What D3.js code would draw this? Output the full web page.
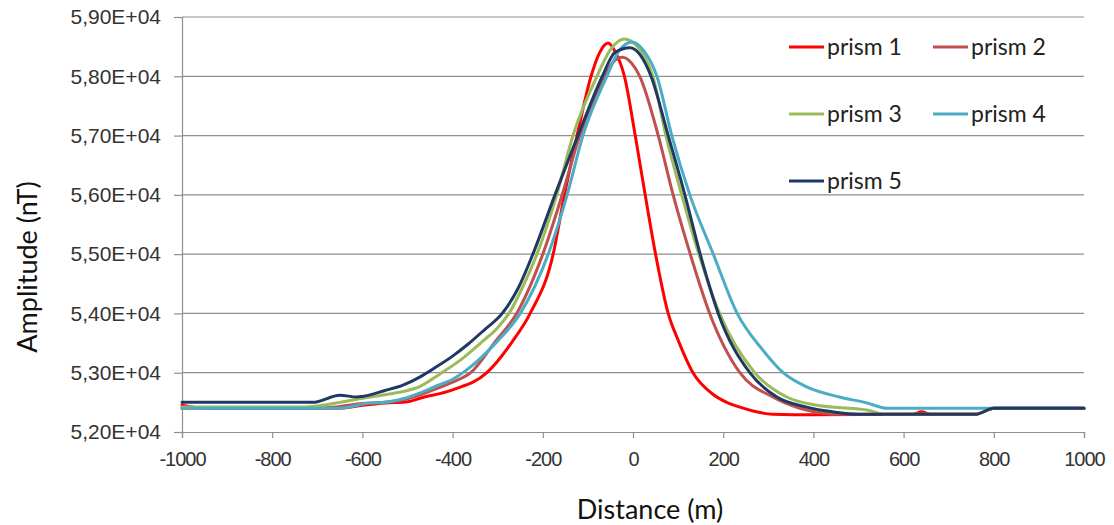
<!DOCTYPE html>
<html>
<head>
<meta charset="utf-8">
<script src="https://cdn.jsdelivr.net/npm/d3@7"></script>
<style>
  html, body { margin: 0; padding: 0; background: #fff; }
  svg { display: block; font-family: Lato, "Open Sans", sans-serif; }
</style>
</head>
<body>
<svg id="chart" width="1114" height="525"></svg>
<script>
// ---------- DATA ----------
const seriesNames = ["prism 1", "prism 2", "prism 3", "prism 4", "prism 5"];
const seriesColors = ["#FF0000", "#C0504D", "#9BBB59", "#4BACC6", "#1F3864"];

const prism1 = [[-1000,52450],[-950,52400],[-700,52400],[-650,52400],[-600,52450],[-550,52490],[-500,52510],[-472,52570],[-400,52710],[-324,53000],[-268,53520],[-228,54000],[-177,55000],[-152,56000],[-124,57000],[-93,58000],[-74,58400],[-55,58560],[-40,58420],[-19,58000],[5,57000],[27,56000],[50,55000],[78,54000],[100,53550],[133,53000],[175,52650],[208,52500],[237,52420],[310,52300],[400,52290],[620,52300],[640,52340],[660,52300],[760,52300],[800,52400],[1000,52400]];
const prism2 = [[-1000,52400],[-700,52400],[-650,52430],[-600,52480],[-550,52500],[-500,52560],[-450,52690],[-400,52840],[-360,53000],[-306,53520],[-258,54000],[-200,55000],[-157,56000],[-118,57000],[-62,58000],[-45,58230],[-24,58320],[-3,58220],[15,58000],[56,57000],[89,56000],[127,55000],[170,54000],[237,53000],[310,52590],[370,52400],[420,52320],[450,52300],[760,52300],[800,52400],[1000,52400]];
const prism3 = [[-1000,52420],[-750,52420],[-700,52440],[-650,52500],[-600,52570],[-550,52630],[-500,52700],[-472,52770],[-428,52980],[-380,53230],[-335,53520],[-300,53760],[-275,54000],[-245,54440],[-213,55000],[-169,56000],[-133,57000],[-80,58000],[-50,58450],[-20,58630],[10,58500],[44,58000],[73,57000],[108,56000],[146,55000],[192,54000],[270,53000],[341,52590],[408,52450],[519,52370],[560,52300],[760,52300],[800,52400],[1000,52400]];
const prism4 = [[-1000,52400],[-650,52400],[-583,52490],[-550,52500],[-510,52560],[-472,52660],[-435,52780],[-400,52890],[-370,53040],[-302,53520],[-250,54000],[-188,55000],[-146,56000],[-111,57000],[-58,58000],[-30,58440],[-2,58580],[25,58420],[53,58000],[86,57000],[126,56000],[178,55000],[231,54000],[288,53380],[333,53000],[385,52760],[458,52590],[519,52490],[563,52400],[1000,52400]];
const prism5 = [[-1000,52500],[-710,52500],[-650,52620],[-612,52590],[-600,52600],[-550,52700],[-510,52790],[-472,52930],[-440,53080],[-400,53280],[-366,53480],[-330,53720],[-290,54000],[-255,54420],[-222,55000],[-173,56000],[-122,57000],[-68,58000],[-40,58400],[-7,58480],[15,58370],[40,58000],[78,57000],[115,56000],[149,55000],[189,54000],[259,53000],[319,52590],[385,52420],[443,52340],[500,52300],[760,52300],[800,52400],[1000,52400]];
const seriesData = [prism1, prism2, prism3, prism4, prism5];

const xTicks = [-1000, -800, -600, -400, -200, 0, 200, 400, 600, 800, 1000];
const xTickLabels = ["-1000", "-800", "-600", "-400", "-200", "0", "200", "400", "600", "800", "1000"];
const yTicks = [52000, 53000, 54000, 55000, 56000, 57000, 58000, 59000];
const yTickLabels = ["5,20E+04", "5,30E+04", "5,40E+04", "5,50E+04", "5,60E+04", "5,70E+04", "5,80E+04", "5,90E+04"];
const xTitle = "Distance (m)";
const yTitle = "Amplitude (nT)";

// ---------- LAYOUT ----------
const svg = d3.select("#chart");
const plotL = 182, plotR = 1084, plotT = 17, plotB = 432;
const x = d3.scaleLinear().domain([-1000, 1000]).range([plotL, plotR]);
const y = d3.scaleLinear().domain([52000, 59000]).range([plotB, plotT]);
const gridColor = "#8E8E8E";
const textColor = "#333333";

// gridlines
svg.append("g").selectAll("line").data(yTicks.filter(d => d > 52000)).join("line")
  .attr("x1", plotL).attr("x2", plotR)
  .attr("y1", d => y(d)).attr("y2", d => y(d))
  .attr("stroke", gridColor).attr("stroke-width", 1.2);

// y axis
const yAxis = svg.append("g").attr("transform", `translate(${plotL},0)`)
  .call(d3.axisLeft(y).tickValues(yTicks).tickSize(8).tickPadding(13)
    .tickFormat((d, i) => yTickLabels[i]));
yAxis.select(".domain").attr("stroke", gridColor).attr("stroke-width", 1.2);
yAxis.selectAll(".tick line").attr("stroke", gridColor).attr("stroke-width", 1.2);
yAxis.selectAll("text").attr("fill", textColor).style("font-size", "21px");

// x axis
const xAxis = svg.append("g").attr("transform", `translate(0,${plotB})`)
  .call(d3.axisBottom(x).tickValues(xTicks).tickSize(6).tickPadding(14)
    .tickFormat((d, i) => xTickLabels[i]));
xAxis.select(".domain").attr("stroke", gridColor).attr("stroke-width", 1.2);
xAxis.selectAll(".tick line").attr("stroke", gridColor).attr("stroke-width", 1.2);
xAxis.selectAll("text").attr("fill", textColor).style("font-size", "20px").style("letter-spacing", "-1px");

// lines
const line = d3.line().x(d => x(d[0])).y(d => y(d[1])).curve(d3.curveMonotoneX);
svg.append("g").selectAll("path").data(seriesData).join("path")
  .attr("d", line)
  .attr("fill", "none")
  .attr("stroke", (d, i) => seriesColors[i])
  .attr("stroke-width", 3)
  .attr("stroke-linejoin", "round")
  .attr("stroke-linecap", "round");

// legend
const legendPos = [[789, 47], [933, 47], [789, 114], [933, 114], [789, 181]];
const lg = svg.append("g").selectAll("g").data(seriesNames).join("g")
  .attr("transform", (d, i) => `translate(${legendPos[i][0]},${legendPos[i][1]})`);
lg.append("line").attr("x1", 0).attr("x2", 35).attr("y1", 0).attr("y2", 0)
  .attr("stroke", (d, i) => seriesColors[i]).attr("stroke-width", 3);
lg.append("text").attr("x", 38).attr("y", 8).text(d => d)
  .attr("fill", "#222").style("font-size", "23px");

// titles
svg.append("text").attr("x", 650).attr("y", 519)
  .attr("text-anchor", "middle").attr("fill", "#111").style("font-size", "27px").text(xTitle);
svg.append("text").attr("transform", "translate(37,267) rotate(-90)")
  .attr("text-anchor", "middle").attr("fill", "#111").style("font-size", "27px").text(yTitle);
</script>
</body>
</html>
